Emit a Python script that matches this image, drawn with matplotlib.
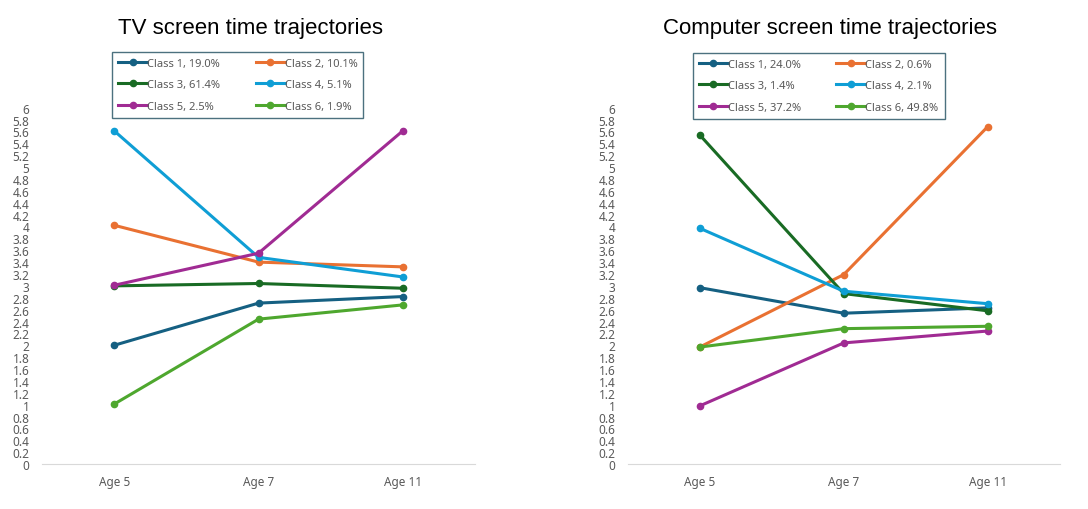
import matplotlib.pyplot as plt

# Categorías y trayectorias (valores leídos do gráfico)
ages = ['Age 5', 'Age 7', 'Age 11']
classes = ['Class 1', 'Class 2', 'Class 3', 'Class 4', 'Class 5', 'Class 6']
colors = ['#156082', '#E97132', '#196B24', '#0F9ED5', '#A02B93', '#4EA72E']

tv_pct = ['19.0%', '10.1%', '61.4%', '5.1%', '2.5%', '1.9%']
tv_c1 = [2.0, 2.71, 2.82]
tv_c2 = [4.02, 3.40, 3.32]
tv_c3 = [3.0, 3.04, 2.96]
tv_c4 = [5.61, 3.48, 3.15]
tv_c5 = [3.01, 3.55, 5.61]
tv_c6 = [1.01, 2.44, 2.68]

pc_pct = ['24.0%', '0.6%', '1.4%', '2.1%', '37.2%', '49.8%']
pc_c1 = [2.97, 2.54, 2.63]
pc_c2 = [1.97, 3.19, 5.68]
pc_c3 = [5.54, 2.87, 2.58]
pc_c4 = [3.97, 2.91, 2.70]
pc_c5 = [0.98, 2.04, 2.24]
pc_c6 = [1.97, 2.28, 2.32]

plt.rcParams['font.family'] = ['Noto Sans', 'DejaVu Sans']

fig = plt.figure(figsize=(10.88, 5.10), dpi=100)


def panel(rect, title, series, pcts, title_x, leg_center):
    ax = fig.add_axes(rect)
    for i, ys in enumerate(series):
        ax.plot(range(len(ages)), ys, color=colors[i], lw=2.2, marker='o', ms=4.5,
                label=f'{classes[i]}, {pcts[i]}', zorder=3 + i)
    ax.set_xlim(-0.5, 2.5)
    ax.set_ylim(0, 6)
    ticks = [round(k * 0.2, 1) for k in range(31)]
    ax.set_yticks(ticks)
    ax.set_yticklabels([f'{t:g}' for t in ticks])
    ax.set_xticks(range(len(ages)))
    ax.set_xticklabels(ages)
    for s in ['top', 'right', 'left']:
        ax.spines[s].set_visible(False)
    ax.spines['bottom'].set_color('#D9D9D9')
    ax.tick_params(axis='both', length=0, colors='#595959', labelsize=8.5)
    ax.tick_params(axis='y', pad=9)
    ax.tick_params(axis='x', pad=8)
    fig.text(title_x, 0.944, title, ha='center', va='center', fontsize=16,
             family=['Liberation Sans', 'DejaVu Sans'], color='#000000')
    h, l = ax.get_legend_handles_labels()
    order = [0, 2, 4, 1, 3, 5]
    leg = ax.legend([h[k] for k in order], [l[k] for k in order], ncol=2, loc='center',
                    bbox_to_anchor=leg_center, bbox_transform=fig.transFigure,
                    fontsize=8, frameon=True, fancybox=False, edgecolor='#1F4E5F',
                    handlelength=2.6, handletextpad=0.0, columnspacing=3.2,
                    labelspacing=0.95, borderpad=0.55, borderaxespad=0,
                    labelcolor='#595959')
    leg.get_frame().set_linewidth(1.0)
    return ax


panel([0.0386, 0.088, 0.398, 0.699], 'TV screen time trajectories',
      [tv_c1, tv_c2, tv_c3, tv_c4, tv_c5, tv_c6], tv_pct, 0.2305, (0.2185, 0.832))
panel([0.577, 0.088, 0.397, 0.699], 'Computer screen time trajectories',
      [pc_c1, pc_c2, pc_c3, pc_c4, pc_c5, pc_c6], pc_pct, 0.7625, (0.7525, 0.830))

fig.savefig('out.png', dpi=100)
